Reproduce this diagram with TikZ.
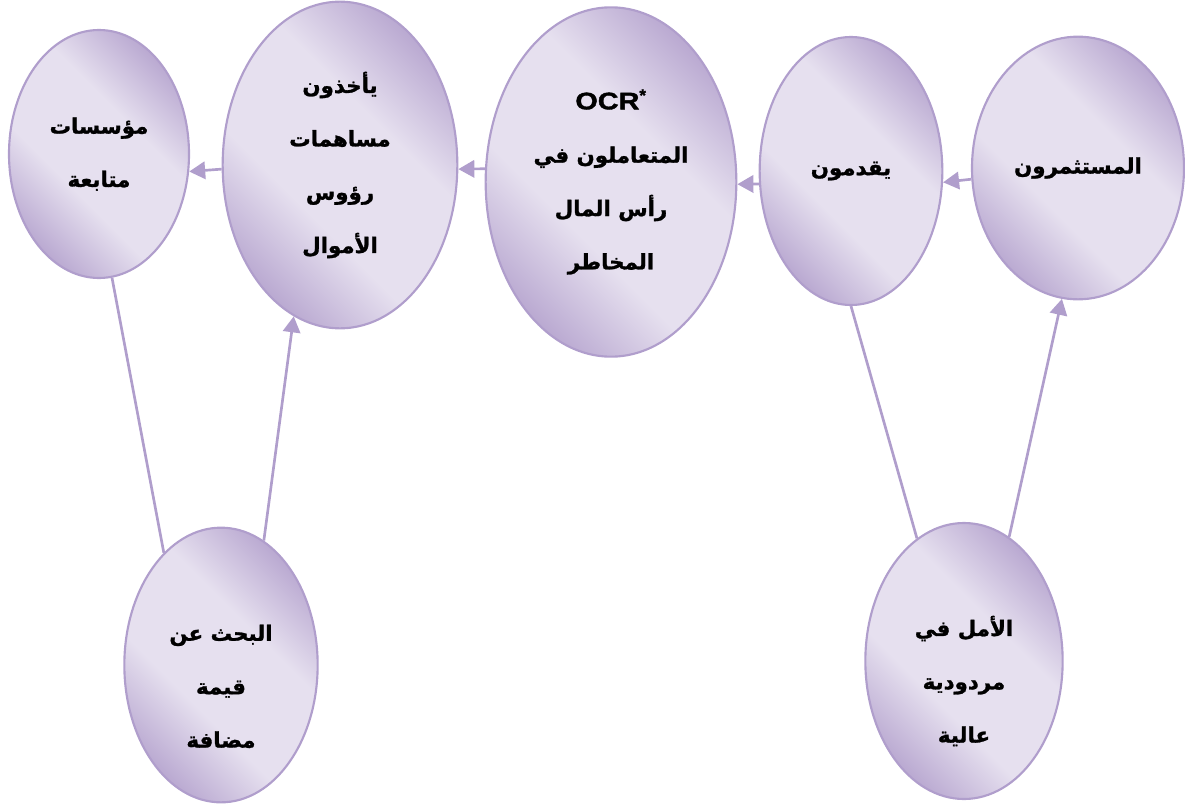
\documentclass[tikz,border=0pt]{standalone}
\usepackage{graphicx}
\usepackage{fontspec}
\setmainfont{Liberation Sans}
\newfontfamily\latinfont[BoldFeatures={FakeBold=1.5}]{Liberation Sans}
\newfontfamily\arabicfont[Script=Arabic, BoldFeatures={FakeBold=1.2}]{DejaVu Sans}
\TeXXeTstate=1
\usetikzlibrary{shapes.geometric,arrows.meta}
\definecolor{lilaclight}{RGB}{230,224,239}
\definecolor{lilacdark}{RGB}{184,167,208}
\definecolor{lilacline}{RGB}{176,158,204}
\pgfdeclareverticalshading{lilacband}{100bp}{color(0bp)=(lilacdark); color(24bp)=(lilacdark); color(40bp)=(lilaclight); color(60bp)=(lilaclight); color(76bp)=(lilacdark); color(100bp)=(lilacdark)}

\begin{document}
\begin{tikzpicture}[
            x=0.75pt, y=-0.75pt,
            txt/.style = {align=center, text=black, font=\arabicfont\bfseries\fontsize{16}{40}\selectfont},
            bubble/.style = {ellipse, draw=lilacline, line width=1.6pt, shade, shading=lilacband, shading angle=-45, inner sep=0pt, txt},
            link/.style = {draw=lilacline, line width=2pt},
            arrowlink/.style = {link, -{Triangle[length=12pt, width=13pt]}}
        ]
            \useasboundingbox (0,0) rectangle (1185,807);

            \node[bubble, minimum width=135pt, minimum height=186pt] (firms) at (99,154) {\beginR مؤسسات\endR\\ \beginR متابعة\endR};
            \node[bubble, minimum width=176pt, minimum height=245pt] (take) at (340,165) {\beginR يأخذون\endR\\ \beginR مساهمات\endR\\ \beginR رؤوس\endR\\ \beginR الأموال\endR};
            \node[bubble, minimum width=188pt, minimum height=262pt] (dealers) at (611,182) {{\latinfont\bfseries\fontsize{18}{40}\selectfont\scalebox{1.2}[1]{OCR}\textsuperscript{*}}\\ \beginR المتعاملون في\endR\\ \beginR رأس المال\endR\\ \beginR المخاطر\endR};
            \node[bubble, minimum width=137pt, minimum height=201pt] (provide) at (851,171) {\beginR يقدمون\endR};
            \node[bubble, minimum width=159pt, minimum height=197pt] (investors) at (1078,168) {\beginR المستثمرون\endR};
            \node[bubble, minimum width=145pt, minimum height=206pt, label={[txt, yshift=-16pt]center:{\beginR البحث عن\endR\\ \beginR قيمة\endR\\ \beginR مضافة\endR}}] (search) at (221,665) {};
            \node[bubble, minimum width=148pt, minimum height=207pt, label={[txt, yshift=-15pt]center:{\beginR الأمل في\endR\\ \beginR مردودية\endR\\ \beginR عالية\endR}}] (hope) at (964,661) {};

            \draw[arrowlink] (investors.186.7) -- (provide.353.8);
            \draw[arrowlink] (provide.188.1) -- (dealers.359);
            \draw[arrowlink] (dealers.174.1) -- (take.358);
            \draw[arrowlink] (take.182.4) -- (firms.349.9);

            \draw[link] (search.117.5) -- (firms.276.5);
            \draw[arrowlink] (search.71.2) -- (take.253.6);
            \draw[link] (hope.111.4) -- (provide.270);
            \draw[arrowlink] (hope.70.7) -- (investors.263.5);
        \end{tikzpicture}
\end{document}
